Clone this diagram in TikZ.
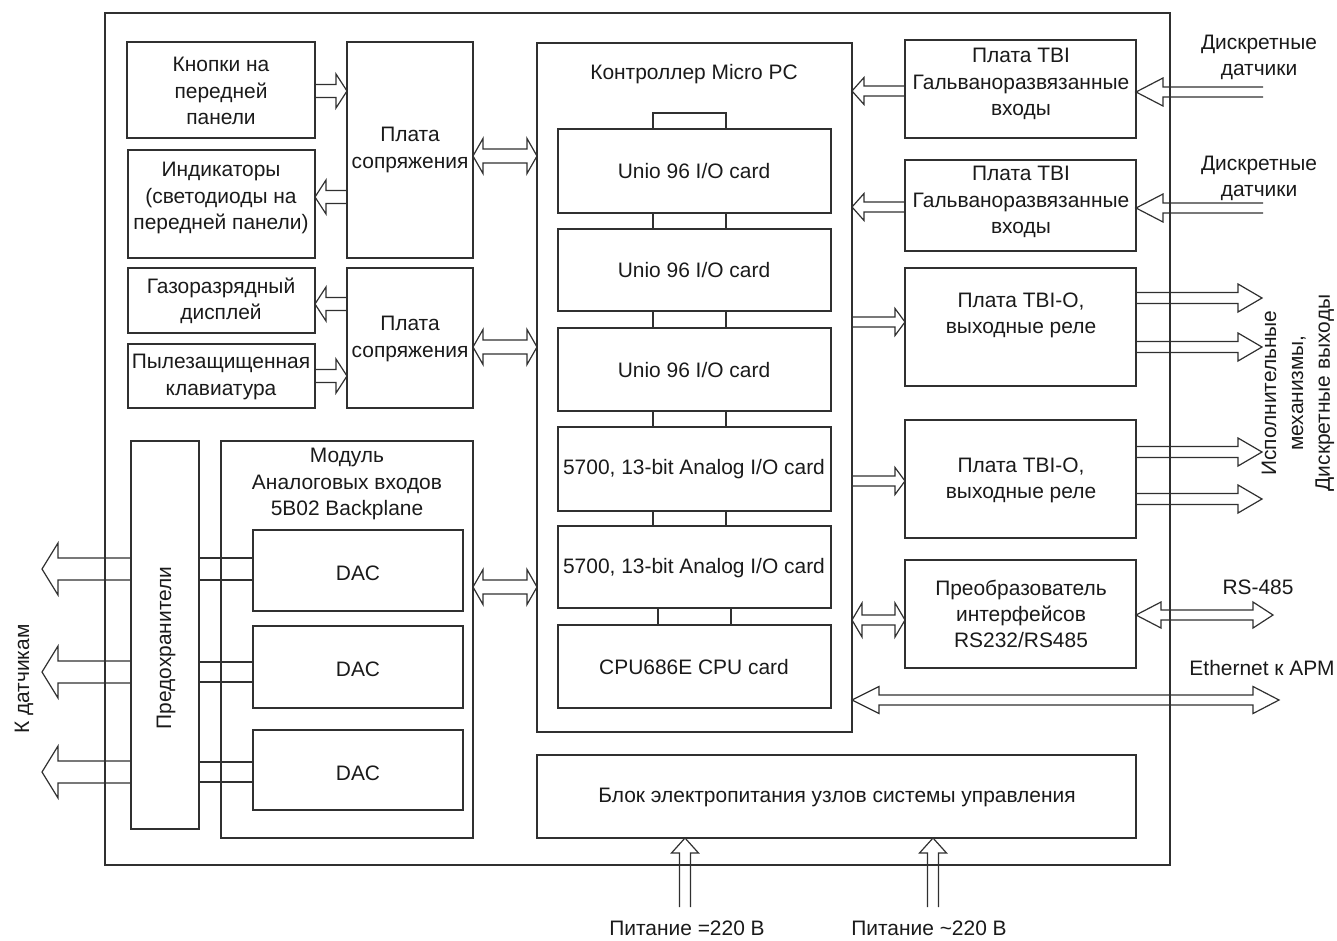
\documentclass[tikz,border=0pt]{standalone}
\usepackage{fontspec}
\setmainfont{Liberation Sans}
\usetikzlibrary{calc}
\definecolor{lc}{HTML}{303030}
\definecolor{tc}{HTML}{1A1A1A}
\tikzset{
  box/.style={draw=lc, line width=0.9pt, inner sep=0pt, outer sep=0pt, rectangle},
  txt/.style={text=tc, align=center, inner sep=0pt, font=\fontsize{15.7}{19.6}\selectfont},
  ln/.style={draw=lc, line width=0.9pt},
}
\newcommand\bx[5]{\node[box, minimum width={(#4-#2)*0.75pt}, minimum height={(#5-#3)*0.75pt}] (#1) at ({(#2+#4)/2},{(#3+#5)/2}) {};}
% single hollow arrow: start, end, shaft half width, head half width, head length (px)
\newcommand\sglarrow[5]{%
  \path ($(#2)!#5*0.75pt!(#1)$) coordinate (hq);
  \draw[ln] ($(#1)!#3*0.75pt!90:(#2)$) -- ($(hq)!#3*0.75pt!-90:(#1)$) -- ($(hq)!#4*0.75pt!-90:(#1)$) -- (#2)
     -- ($(hq)!#4*0.75pt!90:(#1)$) -- ($(hq)!#3*0.75pt!90:(#1)$) -- ($(#1)!#3*0.75pt!-90:(#2)$);}
% double hollow arrow: start, end, shaft half, head half, head length at start, head length at end
\newcommand\dblarrow[6]{%
  \path ($(#2)!#6*0.75pt!(#1)$) coordinate (hq) ($(#1)!#5*0.75pt!(#2)$) coordinate (hr);
  \draw[ln] ($(hr)!#3*0.75pt!90:(#2)$) -- ($(hq)!#3*0.75pt!-90:(#1)$) -- ($(hq)!#4*0.75pt!-90:(#1)$) -- (#2)
     -- ($(hq)!#4*0.75pt!90:(#1)$) -- ($(hq)!#3*0.75pt!90:(#1)$) -- ($(hr)!#3*0.75pt!-90:(#2)$)
     -- ($(hr)!#4*0.75pt!-90:(#2)$) -- (#1) -- ($(hr)!#4*0.75pt!90:(#2)$) -- cycle;}
\begin{document}
\begin{tikzpicture}[x=0.75pt,y=-0.75pt]
\useasboundingbox (0,0) rectangle (1337,940);
% boxes
\bx{frame}{105}{13}{1170}{865}
\bx{knop}{127}{42}{315}{138}
\bx{indic}{128}{150}{315}{258}
\bx{sopr1}{347}{42}{473}{258}
\bx{gaz}{128}{268}{315}{333}
\bx{klav}{128}{344}{315}{408}
\bx{sopr2}{347}{268}{473}{408}
\bx{ctrl}{537}{43}{852}{732}
\bx{t0}{653}{113}{726}{129}
\bx{t1}{653}{213}{726}{229}
\bx{t2}{653}{311}{726}{328}
\bx{t3}{653}{411}{726}{427}
\bx{t4}{653}{511}{726}{526}
\bx{t5}{658}{608}{731}{625}
\bx{u1}{558}{129}{831}{213}
\bx{u2}{558}{229}{831}{311}
\bx{u3}{558}{328}{831}{411}
\bx{an1}{558}{427}{831}{511}
\bx{an2}{558}{526}{831}{608}
\bx{cpu}{558}{625}{831}{708}
\bx{tbi1}{905}{40}{1136}{138}
\bx{tbi2}{905}{160}{1136}{251}
\bx{tbio1}{905}{268}{1136}{386}
\bx{tbio2}{905}{420}{1136}{538}
\bx{conv}{905}{560}{1136}{668}
\bx{power}{537}{755}{1136}{838}
\bx{fuse}{131}{441}{199}{829}
\bx{mod}{221}{441}{473}{838}
\bx{dac1}{253}{530}{463}{611}
\bx{dac2}{253}{626}{463}{708}
\bx{dac3}{253}{730}{463}{810}
% texts
\node[txt] (l1) at (221,91) {Кнопки на\\передней\\панели};
\node[txt] (l2) at (221,198) {Индикаторы\\(светодиоды на\\передней панели)};
\node[txt] (l3) at (410,150) {Плата\\сопряжения};
\node[txt] (l4) at (221,301) {Газоразрядный\\дисплей};
\node[txt] (l5) at (221,377) {Пылезащищенная\\клавиатура};
\node[txt] (l6) at (410,339) {Плата\\сопряжения};
\node[txt] (l7) at (694,74) {Контроллер Micro PC};
\node[txt] (l8) at (694,171) {Unio 96 I/O card};
\node[txt] (l9) at (694,270) {Unio 96 I/O card};
\node[txt] (l10) at (694,370) {Unio 96 I/O card};
\node[txt] (l11) at (694,469) {5700, 13-bit Analog I/O card};
\node[txt] (l12) at (694,568) {5700, 13-bit Analog I/O card};
\node[txt] (l13) at (694,667) {CPU686E CPU card};
\node[txt] (l14) at (1021,84) {Плата TBI\\Гальваноразвязанные\\входы};
\node[txt] (l15) at (1021,202) {Плата TBI\\Гальваноразвязанные\\входы};
\node[txt] (l16) at (1021,315) {Плата TBI-O,\\выходные реле};
\node[txt] (l17) at (1021,480) {Плата TBI-O,\\выходные реле};
\node[txt] (l18) at (1021,614) {Преобразователь\\интерфейсов\\RS232/RS485};
\node[txt] (l19) at (347,484) {Модуль\\Аналоговых входов\\5B02 Backplane};
\node[txt] (l20) at (358,573) {DAC};
\node[txt] (l21) at (358,669) {DAC};
\node[txt] (l22) at (358,773) {DAC};
\node[txt] (l23) at (837,797) {Блок электропитания узлов системы управления};
\node[txt, rotate=90] (l24) at (166,648) {Предохранители};
\node[txt, rotate=90] (l25) at (24,679) {К датчикам};
\node[txt] (l26) at (1259,57) {Дискретные\\датчики};
\node[txt] (l27) at (1259,178) {Дискретные\\датчики};
\node[txt, rotate=90, font=\fontsize{15.7}{20.2}\selectfont] (l28) at (1298,393) {Исполнительные\\механизмы,\\Дискретные выходы};
\node[txt] (l29) at (1258,587) {RS-485};
\node[txt] (l30) at (1262,668) {Ethernet к АРМ};
\node[txt] (l31) at (687,928) {Питание =220 В};
\node[txt] (l32) at (929,928) {Питание \textasciitilde220 В};
% arrow end points
\coordinate (a1s) at (knop.east |- 0,91);   \coordinate (a1e) at (sopr1.west |- 0,91);
\coordinate (a2s) at (sopr1.west |- 0,197); \coordinate (a2e) at (indic.east |- 0,197);
\coordinate (a3s) at (sopr1.east |- 0,156); \coordinate (a3e) at (ctrl.west |- 0,156);
\coordinate (a4s) at (sopr2.west |- 0,304); \coordinate (a4e) at (gaz.east |- 0,304);
\coordinate (a5s) at (klav.east |- 0,376);  \coordinate (a5e) at (sopr2.west |- 0,376);
\coordinate (a6s) at (sopr2.east |- 0,347); \coordinate (a6e) at (ctrl.west |- 0,347);
\coordinate (a7s) at (mod.east |- 0,587);   \coordinate (a7e) at (ctrl.west |- 0,587);
\coordinate (b1s) at (tbi1.west |- 0,91);   \coordinate (b1e) at (ctrl.east |- 0,91);
\coordinate (b2s) at (1263,92);             \coordinate (b2e) at (tbi1.east |- 0,92);
\coordinate (b3s) at (tbi2.west |- 0,207);  \coordinate (b3e) at (ctrl.east |- 0,207);
\coordinate (b4s) at (1263,208);            \coordinate (b4e) at (tbi2.east |- 0,208);
\coordinate (c1s) at (ctrl.east |- 0,322);  \coordinate (c1e) at (tbio1.west |- 0,322);
\coordinate (c2s) at (ctrl.east |- 0,481);  \coordinate (c2e) at (tbio2.west |- 0,481);
\coordinate (d1s) at (tbio1.east |- 0,298); \coordinate (d1e) at (1262,298);
\coordinate (d2s) at (tbio1.east |- 0,347); \coordinate (d2e) at (1262,347);
\coordinate (d3s) at (tbio2.east |- 0,452); \coordinate (d3e) at (1262,452);
\coordinate (d4s) at (tbio2.east |- 0,499); \coordinate (d4e) at (1262,499);
\coordinate (e1s) at (ctrl.east |- 0,620);  \coordinate (e1e) at (conv.west |- 0,620);
\coordinate (e2s) at (conv.east |- 0,615);  \coordinate (e2e) at (1273,615);
\coordinate (e3s) at (ctrl.east |- 0,700);  \coordinate (e3e) at (1279,700);
\coordinate (p1s) at (685,907);             \coordinate (p1e) at (power.south -| 685,0);
\coordinate (p2s) at (933,907);             \coordinate (p2e) at (power.south -| 933,0);
\coordinate (f1s) at (fuse.west |- 0,569);  \coordinate (f1e) at (42,569);
\coordinate (f2s) at (fuse.west |- 0,672);  \coordinate (f2e) at (42,672);
\coordinate (f3s) at (fuse.west |- 0,772);  \coordinate (f3e) at (42,772);
% arrows
\sglarrow{a1s}{a1e}{6.5}{17}{11}
\sglarrow{a2s}{a2e}{6.5}{17}{11}
\dblarrow{a3s}{a3e}{7}{17.5}{10}{10}
\sglarrow{a4s}{a4e}{6.5}{17}{11}
\sglarrow{a5s}{a5e}{6.5}{17}{11}
\dblarrow{a6s}{a6e}{7}{17.5}{10}{10}
\dblarrow{a7s}{a7e}{7}{17.5}{10}{10}
\sglarrow{b1s}{b1e}{5}{13.5}{12}
\sglarrow{b2s}{b2e}{5}{14}{27}
\sglarrow{b3s}{b3e}{5}{13.5}{12}
\sglarrow{b4s}{b4e}{5}{14}{27}
\sglarrow{c1s}{c1e}{5}{13.5}{10}
\sglarrow{c2s}{c2e}{5}{13.5}{10}
\sglarrow{d1s}{d1e}{5.5}{14}{24}
\sglarrow{d2s}{d2e}{5.5}{14}{24}
\sglarrow{d3s}{d3e}{5.5}{14}{24}
\sglarrow{d4s}{d4e}{5.5}{14}{24}
\dblarrow{e1s}{e1e}{5}{17}{10}{10}
\dblarrow{e2s}{e2e}{5}{13}{25}{20}
\dblarrow{e3s}{e3e}{5}{13.5}{27}{26}
\sglarrow{p1s}{p1e}{5.5}{13.5}{15}
\sglarrow{p2s}{p2e}{5.5}{13.5}{15}
\sglarrow{f1s}{f1e}{11}{26}{16}
\sglarrow{f2s}{f2e}{11}{26}{16}
\sglarrow{f3s}{f3e}{11}{26}{16}
% fuse to DAC wires
\draw[ln] (fuse.east |- 0,558) -- (dac1.west |- 0,558);
\draw[ln] (fuse.east |- 0,580) -- (dac1.west |- 0,580);
\draw[ln] (fuse.east |- 0,662) -- (dac2.west |- 0,662);
\draw[ln] (fuse.east |- 0,682) -- (dac2.west |- 0,682);
\draw[ln] (fuse.east |- 0,762) -- (dac3.west |- 0,762);
\draw[ln] (fuse.east |- 0,782) -- (dac3.west |- 0,782);
\end{tikzpicture}
\end{document}
